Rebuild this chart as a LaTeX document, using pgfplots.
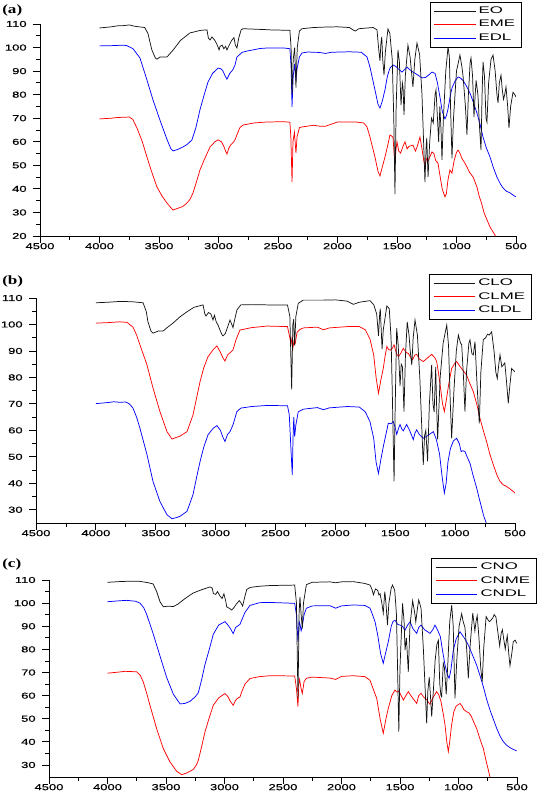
\documentclass[border=0pt]{standalone}
\usepackage{fontspec}
\setmainfont{Liberation Sans}
\newfontfamily\tickfont[FakeStretch=1.5,FakeBold=0.4]{Liberation Sans}
\newfontfamily\legfont[FakeStretch=1.75]{Liberation Sans}
\newfontfamily\panelfont[FakeStretch=1.35]{Liberation Serif}
\usepackage{pgfplots}
\pgfplotsset{compat=1.18}
\pgfplotsset{
 ftir/.style={
  scale only axis,
  x dir=reverse, xmin=500, xmax=4500,
  xtick={500,1000,...,4500},
  minor x tick num=1, minor y tick num=1,
  axis x line*=bottom, axis y line*=left,
  tick align=outside,
  major tick length=5pt, minor tick length=2.8pt,
  tick style={black, line width=0.6pt},
  axis line style={line width=0.6pt},
  tick label style={font=\tickfont\fontsize{6.5}{7}\selectfont},
  yticklabel style={xshift=-1.5pt},
  xticklabel style={yshift=3.2pt},
  /pgf/number format/assume math mode=true,
  /pgf/number format/1000 sep={},
  scaled ticks=false,
  clip=true,
  legend cell align=left,
  legend style={draw=black, line width=0.5pt, fill=white, font=\legfont\fontsize{7.2}{8}\selectfont, anchor=north east, inner xsep=3pt, inner ysep=1.5pt, row sep=-0.5pt},
  legend image code/.code={\draw[##1] (0pt,0pt) -- (31pt,0pt);},
 },
 sp/.style={line width=0.55pt, mark=none, forget plot},
}
\definecolor{spred}{RGB}{255,0,0}
\definecolor{spblue}{RGB}{0,0,255}
\definecolor{spblack}{RGB}{20,20,20}
\begin{document}
\begin{tikzpicture}
\path[use as bounding box] (0,0) rectangle (404.25pt,593.25pt);
% ---------------- (a)
\begin{axis}[ftir, at={(30pt,416.25pt)}, anchor=south west, width=357pt, height=159pt,
  ymin=20, ymax=110, ytick={20,30,...,110},
  legend style={at={(axis description cs:1.0126,1.104)}}]
\addlegendimage{spblack, line width=0.55pt}\addlegendentry{EO}
\addlegendimage{spred, line width=0.55pt}\addlegendentry{EME}
\addlegendimage{spblue, line width=0.55pt}\addlegendentry{EDL}
\addplot[sp, spred] coordinates {(4000,69.7) (3900,70) (3850,70.3) (3800,70.4) (3750,70.5) (3720,69.5) (3685,65.8) (3640,60) (3601,53.5) (3560,47) (3517,40.8) (3475,37) (3433,34) (3400,32) (3382,31) (3340,31.8) (3300,32.5) (3265,34) (3240,35.5) (3214,38.3) (3185,43) (3156,48) (3110,53.5) (3071,57.8) (3030,60) (3004,60.8) (2975,60) (2955,58) (2940,56) (2929,54.8) (2915,57) (2900,58.5) (2880,59.5) (2861,60.8) (2845,63) (2820,66) (2794,67.1) (2700,68) (2592,68.4) (2450,68.5) (2400,68.3) (2392,62) (2382,42.9) (2374,60) (2362,64) (2349,55.2) (2340,62) (2320,66) (2298,66.3) (2200,67) (2150,66.6) (2100,66.6) (2050,67.5) (2000,68.4) (1850,68.4) (1780,68) (1752,66.3) (1727,62) (1685,53.5) (1660,47.5) (1643,45.5) (1625,49) (1601,53.5) (1580,58) (1559,62.9) (1534,62) (1525,56) (1517,50.1) (1510,56) (1500,60) (1485,56) (1470,55.2) (1450,58) (1433,60) (1415,57) (1400,58) (1366,58.6) (1345,56) (1330,58) (1307,62) (1290,57) (1275,52) (1265,50.1) (1250,53) (1239,52) (1220,54) (1206,55.7) (1190,55) (1175,52) (1156,51) (1140,46) (1120,40) (1097,36.6) (1085,38) (1071,44) (1055,48) (1038,46.7) (1020,52) (1000,55.5) (987,56.5) (970,55) (955,53) (930,51) (912,49.3) (890,47) (860,45) (828,40.8) (810,37) (790,34) (768,29.8) (745,27) (718,23.8) (690,21.5) (668,19.6) (650,18)};
\addplot[sp, spblue] coordinates {(4000,100.7) (3900,100.8) (3800,101) (3770,100.8) (3718,99.5) (3660,95.6) (3601,86.2) (3550,77.7) (3492,69.2) (3433,61) (3400,57) (3382,56.1) (3340,56.8) (3298,57.8) (3260,59) (3223,60.8) (3190,66) (3156,73.5) (3120,80) (3088,85.4) (3050,89) (3004,91.3) (2980,91) (2962,90) (2945,88) (2929,86.6) (2915,88) (2903,89.2) (2880,90.5) (2861,92.6) (2845,96) (2800,98) (2761,98.5) (2650,99.6) (2592,99.8) (2450,99.8) (2400,99.5) (2390,92) (2382,74.8) (2372,88) (2360,93) (2350,86) (2340,91) (2320,96) (2298,97.7) (2250,98.1) (2150,97.9) (2100,97.5) (2050,98) (1900,98.2) (1800,98) (1752,96) (1727,91.7) (1685,82) (1660,76) (1643,74.3) (1625,77) (1601,82) (1580,88) (1559,91.3) (1534,92.6) (1510,92) (1490,91) (1458,89.6) (1440,90.5) (1416,91.7) (1390,90.5) (1366,89.6) (1330,88.5) (1290,87.1) (1260,87.3) (1230,88.5) (1206,89.6) (1180,89) (1160,85) (1139,79) (1120,73) (1097,69.7) (1085,71) (1071,74) (1050,80) (1038,82.8) (1010,86) (987,87.5) (965,87) (945,86) (920,84) (887,80.7) (860,77) (828,72.2) (800,67) (777,62) (750,57.5) (718,53.5) (690,49) (660,45) (630,42) (609,40.4) (580,39) (550,38.3) (520,37.2) (500,36.6)};
\addplot[sp, spblack] coordinates {(4000,108.3) (3900,108.8) (3850,109.2) (3800,109.3) (3750,109.6) (3700,109.0) (3620,108.5) (3593,106) (3560,99) (3530,95.5) (3517,95.1) (3490,96) (3433,96) (3380,99) (3320,103) (3240,106.2) (3150,107.3) (3097,107.5) (3085,104) (3071,103.2) (3055,104.5) (3030,103) (3010,101) (2995,99) (2987,100.5) (2970,101) (2955,99.5) (2940,100.5) (2929,99) (2910,101) (2890,103) (2870,104.2) (2858,101) (2845,99.8) (2830,104) (2810,107.5) (2794,108) (2700,107.8) (2600,107.6) (2567,107.5) (2400,107.3) (2390,100) (2382,80) (2372,95) (2360,100) (2349,83) (2338,100) (2320,107) (2298,108) (2200,108.5) (2100,108.7) (2000,108.8) (1900,108.5) (1870,107.5) (1850,107) (1820,108) (1700,108.5) (1668,107.5) (1655,100) (1643,94.3) (1635,102) (1628,104.5) (1620,95) (1609,88.3) (1598,98) (1576,107.9) (1560,106) (1540,95) (1527,70) (1517,37.8) (1507,75) (1492,99) (1480,94) (1466,75.6) (1455,85) (1449,83) (1441,71.4) (1430,88) (1408,101) (1390,96) (1366,83.3) (1350,95) (1332,101.9) (1310,97) (1290,80) (1265,42.9) (1255,58) (1250,61.6) (1239,45) (1225,60) (1210,70) (1195,68) (1180,80) (1172,82) (1160,70) (1150,60) (1140,75) (1130,65) (1122,52.3) (1110,70) (1090,90) (1071,100.3) (1060,96) (1050,75) (1038,53) (1025,70) (1000,90) (971,96.8) (955,92) (945,88) (925,75) (912,62.9) (900,80) (885,94) (878,95.6) (865,88) (853,70.5) (843,80) (835,86) (820,80) (805,65) (794,56.5) (785,80) (777,93.9) (765,88) (752,70) (744,68.4) (730,85) (710,95) (693,96.8) (675,90) (660,80) (651,76.5) (640,85) (626,88.3) (615,82) (605,78) (595,80) (584,83.3) (570,75) (559,65.8) (545,75) (525,81) (510,80) (500,79)};
\end{axis}
% ---------------- (b)
\begin{axis}[ftir, at={(27pt,201pt)}, anchor=south west, width=359.25pt, height=168.75pt,
  ymin=25, ymax=110, ytick={30,40,...,110},
  legend style={at={(axis description cs:1.0355,1.107)}}]
\addlegendimage{spblack, line width=0.55pt}\addlegendentry{CLO}
\addlegendimage{spred, line width=0.55pt}\addlegendentry{CLME}
\addlegendimage{spblue, line width=0.55pt}\addlegendentry{CLDL}
\addplot[sp, spred] coordinates {(4000,100.5) (3900,100.7) (3800,101) (3740,100.8) (3690,99) (3660,96) (3632,92.3) (3573,84.7) (3523,76) (3465,67.1) (3406,59.5) (3364,56.7) (3330,57.3) (3298,57.8) (3239,59.5) (3189,65.8) (3160,72) (3130,78.4) (3100,83.5) (3064,87.8) (3020,90.5) (2989,91.9) (2960,89.5) (2940,87.5) (2922,86.2) (2900,88.5) (2875,89.5) (2855,90.4) (2830,94.2) (2797,97.9) (2700,98.8) (2571,99.4) (2400,99.2) (2385,96) (2370,92.5) (2362,95) (2355,91) (2345,94) (2335,93) (2320,97) (2300,98) (2268,98.7) (2150,99) (2100,98) (2050,98.7) (1900,99.2) (1800,99.2) (1750,98) (1711,94.5) (1680,88.5) (1660,80) (1640,74) (1620,79) (1600,83.4) (1585,88) (1570,91.7) (1555,90.5) (1540,90.3) (1525,91) (1510,92.3) (1490,89) (1474,87.9) (1455,89) (1433,91) (1410,89.5) (1390,89) (1370,87.5) (1355,86.7) (1335,88.5) (1321,88.7) (1300,87) (1266,86) (1240,87) (1196,88.7) (1170,87.5) (1154,86) (1140,82) (1126,77.5) (1105,70) (1090,67.1) (1075,71) (1055,77) (1029,83.4) (1000,85.5) (987,86) (965,84.5) (940,83) (904,80.9) (880,78) (848,74.6) (820,70) (792,64.5) (765,60) (737,55.7) (710,51) (681,47) (650,43) (625,40.7) (600,39.5) (570,38.8) (540,37.8) (514,36.9) (500,36.3)};
\addplot[sp, spblue] coordinates {(4000,70.1) (3900,70.5) (3850,70.8) (3800,70.6) (3750,70.7) (3720,70) (3690,68.4) (3660,65) (3632,60.8) (3573,50.8) (3523,40.7) (3465,33.1) (3406,28.1) (3364,26.6) (3330,27) (3298,27.5) (3239,29.4) (3189,35.7) (3160,42) (3130,48.2) (3100,53.5) (3064,58.3) (3020,60.8) (2989,61.8) (2960,60) (2940,57.5) (2922,55.8) (2900,58.5) (2880,59.5) (2855,62.1) (2822,67.1) (2790,68.4) (2700,69) (2571,69.4) (2400,69.3) (2385,66) (2370,52) (2360,43.2) (2352,60) (2347,65) (2340,57.6) (2330,62) (2310,67) (2268,68) (2150,68.6) (2100,67.8) (2050,68.5) (1900,69) (1800,68.8) (1750,67) (1711,63.3) (1680,57) (1660,48) (1640,43.7) (1620,49) (1600,53.8) (1580,58) (1558,62.7) (1535,62.5) (1516,63.3) (1500,61) (1488,58.5) (1470,61) (1460,62.2) (1445,60.5) (1433,59.8) (1405,62.2) (1380,60) (1349,56.5) (1335,59) (1321,60.2) (1300,58.5) (1266,57) (1230,58) (1182,59.5) (1160,57) (1154,56) (1130,51) (1110,43) (1090,36.3) (1075,40) (1060,48) (1040,53) (1015,56) (987,57) (965,55) (950,52) (935,52.3) (918,52) (900,50) (876,47.6) (850,43) (820,38.2) (800,34.5) (778,30.6) (760,27.5) (737,24.6) (720,22)};
\addplot[sp, spblack] coordinates {(4000,108.2) (3900,108.4) (3800,108.7) (3700,108.6) (3606,108.2) (3580,105) (3565,101) (3540,97.5) (3523,96.7) (3480,97.5) (3439,97.5) (3400,99) (3356,100.5) (3300,102.8) (3239,104.8) (3180,106.5) (3105,107.4) (3090,104) (3080,103.2) (3060,104.5) (3040,104) (3022,101.7) (3010,103.5) (2995,101) (2980,99.8) (2960,97.5) (2945,96) (2938,95.7) (2920,96.5) (2900,99) (2880,101.7) (2865,100) (2855,98.8) (2840,102) (2822,105.5) (2790,107.4) (2700,107.5) (2571,107.4) (2400,107.4) (2380,103) (2365,75.5) (2355,100) (2348,102) (2340,92) (2330,103) (2310,108) (2268,109.2) (2100,109.2) (2000,109.3) (1900,108.8) (1850,107.6) (1800,108.4) (1711,109) (1680,107.5) (1655,104) (1640,95.7) (1630,104) (1625,106) (1610,90.7) (1600,98) (1570,107) (1550,106) (1535,95) (1525,75) (1510,40.7) (1500,70) (1488,98.6) (1475,92) (1460,76.8) (1450,85) (1440,84) (1427,67.1) (1415,88) (1400,101) (1385,96) (1375,90) (1362,84.7) (1350,95) (1335,101.7) (1315,96) (1295,80) (1266,47) (1255,58) (1245,60) (1230,48.3) (1215,70) (1196,84.7) (1185,70) (1175,67) (1162,84) (1155,70) (1146,56.6) (1125,80) (1100,93) (1070,99.8) (1055,92) (1040,70) (1029,57) (1010,75) (990,90) (973,96) (955,93) (945,92.3) (930,80) (918,67.1) (905,82) (885,93) (876,94.2) (860,89) (848,88.5) (834,93.5) (820,80) (808,70) (798,62.6) (785,82) (765,94.2) (745,95) (730,96.3) (715,96) (695,97.2) (675,90) (660,82) (648,79.6) (635,85) (625,88.5) (610,84) (598,84.7) (585,85.5) (570,78) (556,70.2) (545,76) (528,83.4) (510,82.5) (500,82.1)};
\end{axis}
% ---------------- (c)
\begin{axis}[ftir, at={(36.75pt,10.5pt)}, anchor=south west, width=351pt, height=147.75pt,
  ymin=24.8, ymax=110, ytick={30,40,...,110},
  legend style={at={(axis description cs:1.0427,1.112)}}]
\addlegendimage{spblack, line width=0.55pt}\addlegendentry{CNO}
\addlegendimage{spred, line width=0.55pt}\addlegendentry{CNME}
\addlegendimage{spblue, line width=0.55pt}\addlegendentry{CNDL}
\addplot[sp, spred] coordinates {(4000,69.7) (3900,70.2) (3850,70.5) (3800,70.4) (3750,70.3) (3720,68.8) (3694,65.9) (3665,61) (3637,55.8) (3580,45.7) (3523,37.1) (3466,31.3) (3409,27.3) (3366,25.8) (3320,26.6) (3266,28.1) (3240,30) (3224,32) (3195,38) (3167,44.3) (3130,50.5) (3096,55.8) (3050,59) (2996,60.9) (2970,59.5) (2950,57.5) (2925,55.8) (2905,58) (2890,58.8) (2868,59.4) (2850,62) (2825,65) (2782,67.4) (2700,68.2) (2611,68.6) (2400,68.5) (2385,63) (2372,55.2) (2365,65) (2358,67) (2345,63) (2335,60.9) (2320,66) (2300,67.5) (2250,68) (2100,67.6) (2050,67) (2000,68.3) (1900,68.6) (1800,68.2) (1756,66.6) (1730,63) (1699,58.8) (1670,50) (1643,43.7) (1620,50) (1600,54.5) (1570,60) (1543,62.4) (1525,61.5) (1510,62) (1490,60) (1471,58.1) (1450,60) (1429,61.7) (1400,59.5) (1357,56.6) (1340,60) (1320,61) (1300,59.5) (1272,58.2) (1243,56.2) (1220,59) (1187,61.7) (1170,60.5) (1150,57.5) (1130,52) (1115,47.3) (1100,40) (1087,35.8) (1075,40) (1060,47) (1040,53) (1020,55.5) (987,56.6) (970,55.5) (955,54) (930,53) (910,52.5) (890,51) (865,48) (845,45.8) (815,41) (788,37.2) (765,32) (745,27.8) (725,23.5)};
\addplot[sp, spblue] coordinates {(4000,100.6) (3900,101) (3836,101.2) (3760,100.8) (3722,100) (3690,98) (3665,95.1) (3608,86.5) (3551,77.1) (3494,67.8) (3437,60.6) (3380,56.4) (3340,56.6) (3295,57.5) (3250,59.5) (3224,61.2) (3195,67) (3167,73.4) (3130,80) (3096,86.5) (3050,90.5) (2996,92) (2970,90.5) (2950,89) (2925,86.8) (2905,89.5) (2890,90) (2868,90.8) (2850,93) (2825,96) (2782,99) (2700,100.2) (2611,100.3) (2400,99.9) (2385,95) (2372,83.3) (2362,92) (2355,91) (2345,88) (2335,90) (2320,95) (2300,97.8) (2250,98.8) (2100,98.9) (2050,97.8) (2000,98.8) (1900,99.2) (1800,99) (1756,97.8) (1735,95) (1713,91.9) (1690,86) (1665,78) (1643,74) (1625,78) (1600,83.3) (1575,90) (1560,92) (1543,92.6) (1520,90.8) (1500,90.5) (1480,90) (1457,88.3) (1435,90.5) (1414,91.9) (1390,89) (1357,86.9) (1340,89.5) (1320,90.5) (1290,88.5) (1243,86.9) (1220,88.5) (1201,90.5) (1180,88.5) (1155,85.5) (1135,79) (1115,73.2) (1095,69) (1080,67.5) (1065,71) (1045,79.5) (1020,84.5) (987,87.6) (965,86) (945,84.5) (916,81.9) (880,77.5) (845,73.2) (815,68.5) (788,63.9) (760,58.5) (731,53.8) (700,49.5) (674,45.9) (645,42.5) (617,40.1) (590,38.6) (560,37.5) (530,36.7) (503,36.1)};
\addplot[sp, spblack] coordinates {(4000,109) (3900,109.3) (3800,109.5) (3722,109.4) (3650,108.8) (3610,108.3) (3580,105) (3551,100.6) (3523,98.4) (3480,98.7) (3437,98.5) (3400,99.5) (3352,101.4) (3300,103.3) (3266,104.4) (3200,105.7) (3124,107) (3105,106.5) (3095,104.1) (3075,103.8) (3060,105) (3038,103) (3020,102) (3005,104) (2990,101) (2981,98.4) (2960,97.8) (2939,97) (2920,98) (2900,99.5) (2874,101.1) (2860,100.2) (2845,98.7) (2830,102) (2810,105.9) (2780,106.8) (2700,107.3) (2611,107.6) (2400,107.8) (2385,100) (2372,58.8) (2362,96) (2355,102.7) (2345,95) (2335,89) (2325,100) (2300,108) (2250,109) (2100,109.2) (2050,108.8) (2000,109.2) (1900,109.3) (1800,108.5) (1756,107.8) (1740,106) (1727,103.6) (1710,106.1) (1690,105.5) (1680,103.5) (1670,104) (1655,100) (1643,95.7) (1630,105) (1620,100) (1607,90.5) (1595,100) (1575,106.5) (1564,107.8) (1545,105.5) (1530,95) (1520,70) (1510,44.4) (1500,72) (1478,99.9) (1465,92) (1457,79.7) (1445,85) (1429,70.3) (1415,90) (1392,101) (1375,96) (1365,91.9) (1350,98) (1340,101.4) (1320,97.8) (1300,80) (1272,48) (1262,62) (1250,68) (1240,60) (1229,50.9) (1215,62) (1200,75) (1185,82) (1172,84) (1160,65) (1150,60) (1144,59.5) (1130,74) (1120,72) (1105,60.5) (1090,75) (1075,92) (1058,99.1) (1045,90) (1030,58.8) (1015,75) (995,90) (973,95.4) (960,92) (945,89.5) (930,80) (916,67.5) (900,82) (878,95.7) (860,88) (850,92) (840,94.6) (825,85) (810,72) (797,66) (785,80) (764,94.2) (745,92.5) (735,92) (709,93.4) (695,95) (680,94) (665,88) (648,81.5) (635,87) (625,88.5) (612,84) (600,80.1) (590,84) (583,85.9) (570,78) (560,72.9) (545,78) (532,83.3) (515,84) (503,82.6)};
\end{axis}
\node[anchor=west, inner sep=0pt, font=\panelfont\bfseries\fontsize{9.5}{10}\selectfont] at (1.5pt,585.75pt) {(a)};
\node[anchor=west, inner sep=0pt, font=\panelfont\bfseries\fontsize{9.5}{10}\selectfont] at (1.5pt,382.5pt) {(b)};
\node[anchor=west, inner sep=0pt, font=\panelfont\bfseries\fontsize{9.5}{10}\selectfont] at (1.5pt,170.25pt) {(c)};
\end{tikzpicture}
\end{document}
